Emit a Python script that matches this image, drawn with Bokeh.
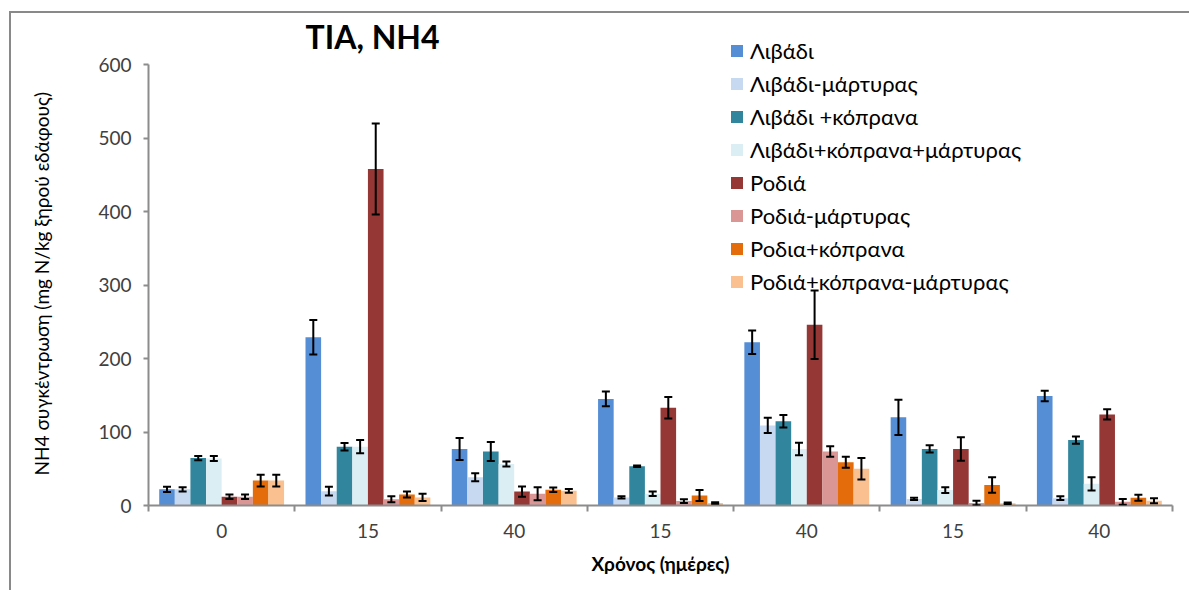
import numpy as np
from bokeh.plotting import figure
from bokeh.models import (ColumnDataSource, Whisker, TeeHead, FixedTicker, Label, Legend, Title)
from bokeh.embed import file_html
from bokeh.resources import INLINE

# ---------------- data ----------------
groups = ["0", "15", "40", "15", "40", "15", "40"]
series = ["Λιβάδι", "Λιβάδι-μάρτυρας", "Λιβάδι +κόπρανα", "Λιβάδι+κόπρανα+μάρτυρας",
          "Ροδιά", "Ροδιά-μάρτυρας", "Ροδια+κόπρανα", "Ροδιά+κόπρανα-μάρτυρας"]
colors = ["#558ED5", "#C6D9F1", "#31859C", "#DBEEF4",
          "#953735", "#D99694", "#E46C0A", "#FAC090"]

livadi = [22, 229, 77, 145, 222, 120, 149]
livadi_err = [3.5, 23.5, 15, 10, 16, 24, 7]
livadi_m = [22, 19.5, 38.5, 11, 109, 9, 10]
livadi_m_err = [3, 6, 5.5, 1.5, 10.5, 1.5, 2.5]
livadi_k = [64.5, 80, 73.5, 53.5, 114.5, 77, 89]
livadi_k_err = [3, 5, 13, 1, 8.5, 5, 5]
livadi_km = [64, 80, 56.5, 16, 77, 21, 29.5]
livadi_km_err = [3.5, 9, 3.5, 3, 8.5, 4, 9]
rodia = [12, 458, 19, 133, 246, 77, 124]
rodia_err = [3, 62, 7, 14.5, 46.5, 16, 7]
rodia_m = [12, 8.5, 16, 6, 73.5, 3.5, 5]
rodia_m_err = [3, 4, 9, 2.5, 7, 3, 4]
rodia_k = [34, 15, 21.5, 13.5, 59, 28, 10.5]
rodia_k_err = [8, 4, 3, 7.5, 7.5, 10.5, 4]
rodia_km = [34, 11, 20, 3.5, 50, 3, 6.5]
rodia_km_err = [8, 5, 2.5, 1, 14.5, 1, 3.5]

values = [livadi, livadi_m, livadi_k, livadi_km, rodia, rodia_m, rodia_k, rodia_km]
errors = [livadi_err, livadi_m_err, livadi_k_err, livadi_km_err,
          rodia_err, rodia_m_err, rodia_k_err, rodia_km_err]

y_ticks = [0, 100, 200, 300, 400, 500, 600]

FONT = "Lato"
AXIS_COL = "#8c8c8c"

p = figure(width=1180, height=579, x_range=(0, len(groups)), y_range=(0, 660),
           output_backend="svg", toolbar_location=None, tools="",
           min_border_left=137, min_border_right=19, min_border_top=7, min_border_bottom=87)
p.styles = {"border-left": "2px solid #898989", "border-top": "2px solid #898989",
            "margin-left": "9px", "margin-top": "11px"}
p.outline_line_color = None
p.xgrid.grid_line_color = None
p.ygrid.grid_line_color = None
p.background_fill_color = "white"
p.border_fill_color = "white"

n = len(series)
bw = 0.1067
start = (1 - n * bw) / 2
gidx = np.arange(len(groups))

legend_items = []
for i in range(n):
    xs = gidx + start + (i + 0.5) * bw
    v = np.array(values[i], dtype=float)
    e = np.array(errors[i], dtype=float)
    src = ColumnDataSource(dict(x=xs, top=v, upper=v + e, lower=np.maximum(v - e, 0)))
    r = p.vbar(x="x", top="top", width=bw, source=src, fill_color=colors[i],
               line_color=None)
    legend_items.append((series[i], [r]))
    w = Whisker(source=src, base="x", upper="upper", lower="lower", dimension="height",
                line_color="black", line_width=2, level="overlay",
                upper_head=TeeHead(size=8, line_width=2, line_color="black"),
                lower_head=TeeHead(size=8, line_width=2, line_color="black"))
    p.add_layout(w)

legend = Legend(items=legend_items, location=(581, 210))
legend.label_text_font = FONT
legend.label_text_font_size = "22px"
legend.label_text_color = "black"
legend.glyph_width = 15
legend.glyph_height = 15
legend.label_height = 22
legend.spacing = 6
legend.padding = 0
legend.margin = 0
legend.border_line_color = None
legend.background_fill_alpha = 0
legend.label_standoff = 6
p.add_layout(legend)

# x axis
xa = p.xaxis[0]
xa.ticker = FixedTicker(ticks=list(gidx + 0.5), minor_ticks=list(range(len(groups) + 1)))
xa.major_label_overrides = {float(g + 0.5): groups[g] for g in range(len(groups))}
xa.major_tick_line_color = None
xa.major_tick_out = 6
xa.major_tick_in = 0
xa.minor_tick_line_color = AXIS_COL
xa.minor_tick_line_width = 2
xa.minor_tick_out = 6
xa.minor_tick_in = 0
xa.axis_line_color = AXIS_COL
xa.axis_line_width = 2
xa.major_label_text_font = FONT
xa.major_label_text_font_size = "19px"
xa.major_label_text_color = "#404040"
xa.major_label_standoff = 12
xa.axis_label = "Χρόνος (ημέρες)"
xa.axis_label_text_font = FONT
xa.axis_label_text_font_size = "19px"
xa.axis_label_text_font_style = "bold"
xa.axis_label_text_color = "black"
xa.axis_label_standoff = 11

# y axis
ya = p.yaxis[0]
ya.ticker = FixedTicker(ticks=y_ticks)
ya.bounds = (0, 600)
ya.major_tick_line_color = AXIS_COL
ya.major_tick_line_width = 2
ya.major_tick_out = 5
ya.major_tick_in = 0
ya.minor_tick_line_color = None
ya.axis_line_color = AXIS_COL
ya.axis_line_width = 2
ya.major_label_text_font = FONT
ya.major_label_text_font_size = "19px"
ya.major_label_text_color = "#404040"
ya.major_label_standoff = 12
# spacer between tick labels and the y title (keeps title position independent of frame)
ya.axis_label = " "
ya.axis_label_text_font_size = "1px"
ya.axis_label_standoff = 38

ytitle = Title(text="NH4 συγκέντρωση (mg N/kg ξηρού εδάφους)", align="left", offset=30,
               standoff=2, text_font=FONT, text_font_size="19px",
               text_font_style="normal", text_color="black")
p.add_layout(ytitle, "left")

title = Label(x=157, y=469, x_units="screen", y_units="screen", text="TIA,  NH4",
              text_font=FONT, text_font_style="bold", text_font_size="32px",
              text_color="black", text_baseline="alphabetic")
p.add_layout(title)

open("out.html", "w").write(file_html(p, INLINE))
